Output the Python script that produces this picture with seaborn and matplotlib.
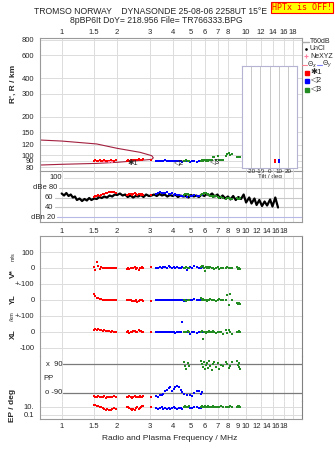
import matplotlib
matplotlib.use('Agg')
import matplotlib.pyplot as plt
import seaborn as sns
from matplotlib.lines import Line2D
from matplotlib.ticker import NullLocator

# ── Frekans ekseni ──
FREQ_LIM = (0.763, 20.1)
GRID_F = [1, 1.5, 2, 3, 4, 5, 6, 7, 8, 10, 12, 14, 16, 18]
TOP_TICKS = [1, 1.5, 2, 3, 4, 5, 6, 7, 8, 10, 12, 14, 16, 18]
TOP_LABELS = ['1', '1.5', '2', '3', '4', '5', '6', '7', '8', '10', '12', '14', '16', '18']
LOW_TICKS = [1, 1.5, 2, 3, 4, 5, 6, 7, 8, 9, 10, 11.4, 12.95, 14.4, 15.9]
LOW_LABELS = ['1', '1.5', '2', '3', '4', '5', '6', '7', '8', '9', '10', '12', '14', '16', '18']
R_TICKS = [80, 90, 100, 120, 150, 200, 300, 400, 600, 800]

# ── Yankı grupları (frekans, MHz) ──
red_f = [1.50, 1.52, 1.55, 1.58, 1.61, 1.64, 1.67, 1.70, 1.73, 1.76, 1.80, 1.84, 1.88, 1.93, 1.98,
         2.25, 2.29, 2.33, 2.37, 2.41, 2.45, 2.49, 2.53, 2.57, 2.61, 2.65, 2.69, 2.73, 2.77, 3.05]
blue_f = [3.25, 3.32, 3.40, 3.48, 3.56, 3.64, 3.72, 3.80, 3.88, 3.96, 4.05, 4.14, 4.23, 4.32, 4.42,
          4.52, 4.62, 4.80, 4.95, 5.10, 5.25, 5.40, 5.55, 5.70, 5.80]
green_f = [4.62, 4.68, 4.75, 4.82, 4.90, 5.72, 5.78, 5.85, 5.92, 6.00, 6.08, 6.15, 6.22, 6.30, 6.40,
           6.50, 6.60, 6.72, 6.85, 7.00, 7.15, 7.30, 7.45, 7.75, 7.90, 8.05, 8.20, 8.35, 8.90, 9.00,
           9.10, 9.20, 9.30]

# R' / km
red_r = [90, 91, 90, 89, 91, 90, 90, 91, 90, 89, 90, 91, 90, 90, 91,
         90, 91, 90, 91, 92, 91, 92, 91, 92, 93, 92, 91, 92, 93, 92]
blue_r = [90, 90, 89, 90, 90, 91, 90, 90, 89, 90, 90, 89, 90, 90, 89, 88, 89, 89, 88, 90, 89, 88, 89, 90, 89]
green_r = [90, 90, 91, 90, 90, 90, 91, 90, 92, 91, 90, 91, 90, 91, 92, 91, 97, 96, 92, 98,
           91, 92, 91, 99, 101, 103, 100, 102, 97, 97, 97, 96, 97]

# Genlik / dB
red_db = [62, 63, 64, 65, 64, 66, 67, 68, 69, 70, 71, 72, 71, 72, 70,
          66, 65, 67, 68, 66, 67, 69, 68, 66, 67, 68, 66, 67, 65, 66]
blue_db = [68, 70, 71, 70, 69, 70, 71, 68, 67, 69, 66, 67, 65, 66, 64, 63, 64, 62, 63, 64, 65, 63, 64, 66, 65]
green_db = [66, 67, 68, 67, 66, 66, 67, 68, 69, 70, 69, 68, 67, 66, 64, 63, 62, 63, 64, 62,
            60, 61, 59, 58, 60, 59, 57, 58, 59, 58, 57, 58, 59]

# V* / m/s
red_v = [5, -10, 35, 15, -8, 5, 3, 0, 2, 0, -2, 0, 2, -3, 0, -5, 3, -8, 0, -3, 2, 5, -5, 0, -10, 3, -3, 8, 0, 8]
blue_v = [0, 3, 5, 2, 8, 5, 0, 10, 5, 3, 8, 0, 5, -3, 0, 5, 3, -12, 5, 0, 10, 5, 0, 3, 5]
green_v = [3, 0, 5, 0, 3, 5, 10, 15, 3, -20, 5, 0, 8, -3, 5, 0, 3, -5, 0, 5, -8, 3, 0, 0, 5, -3, 0, 0, 5, -5, 3, 0, -8]

# YL / km
red_yl = [37, 25, 15, 10, 8, 5, 3, 2, 0, 0, 0, 2, 0, 0, -2, -3, 0, -3, 0, -5, -8, -5, -3, -10, -5, 0, 3, 0, -5, -8]
blue_yl = [0, 2, 0, -3, 0, 0, 2, 0, -3, 0, 0, 2, 0, -2, 0, 0, -5, 2, 0, -3, 5, 0, -2, 0, 2]
green_yl = [0, 3, -5, 0, 0, 15, 0, 5, -3, 0, 3, -5, 0, 0, 5, -3, 0, 0, -5, 0, 8, 3, -3, 0, 31, -34, 37, 0,
            -17, -22, -27, -20, -25]

# XL / km
red_xl = [15, 20, 10, 18, 12, 10, 8, 10, 5, 8, 5, 3, 5, 0, 3, 2, 5, -5, 3, 0, 5, 8, 3, -3, 10, 5, 8, 3, 0, -3]
blue_xl = [0, 2, 0, -3, 0, 0, 2, 0, -3, -2, 0, -5, 0, 2, 0, 62, -3, 0, -10, 0, 3, -8, 0, 2, 0]
green_xl = [3, 0, -3, 5, 0, 0, 5, -44, 3, 0, -5, 3, 0, 5, 0, -3, 5, 0, -5, 0, 3, 0, -15, 10, -8, 15, 0, -10,
            -3, 0, 5, 0, -3]

# PP / deg
red_pp = [-110, -115, -112, -108, -118, -112, -115, -110, -120, -115, -112, -118, -115, -110, -113,
          -112, -118, -110, -115, -120, -112, -108, -115, -118, -112, -110, -116, -113, -108, -115]
blue_pp = [-110, -112, -105, -100, -95, -80, -70, -60, -55, -75, -65, -50, -45, -55, -70, -85, -95,
           -100, -105, -110, -90, -80, -75, -95, -85]
green_pp = [105, 75, 60, 95, 80, 110, 90, 70, 100, 60, 85, 95, 65, 110, 80, 55, 90, 100, 70, 95,
            60, 85, 75, 105, 90, 65, 80, 100, 110, 85, 70, 95, 60]

# EP / deg
red_ep = [30, 25, 20, 18, 10, 8, 5, 3, 2, 3, 2, 2, 3, 5, 3, 10, 8, 5, 3, 2, 3, 2, 5, 8, 3, 5, 10, 15, 20, 10]
blue_ep = [5, 3, 5, 8, 4, 5, 3, 6, 4, 5, 8, 5, 3, 5, 6, 4, 8, 10, 5, 6, 12, 8, 6, 5, 10]
green_ep = [10, 15, 8, 12, 20, 10, 15, 12, 8, 15, 10, 12, 20, 10, 8, 12, 15, 10, 12, 8,
            10, 15, 12, 10, 8, 12, 15, 10, 12, 20, 10, 15, 12]

# Gürültü (T60dB) eğrisi
noise_f = [1.00, 1.03, 1.06, 1.09, 1.12, 1.15, 1.18, 1.21, 1.25, 1.29,
           1.33, 1.37, 1.41, 1.45, 1.50, 1.55, 1.60, 1.65, 1.70, 1.76,
           1.82, 1.88, 1.94, 2.00, 2.07, 2.14, 2.21, 2.28, 2.36, 2.44,
           2.52, 2.60, 2.69, 2.78, 2.87, 2.97, 3.07, 3.17, 3.28, 3.39,
           3.50, 3.62, 3.74, 3.87, 4.00, 4.13, 4.27, 4.41, 4.56, 4.71,
           4.87, 5.03, 5.20, 5.37, 5.55, 5.74, 5.93, 6.13, 6.33, 6.54,
           6.76, 6.99, 7.22, 7.46, 7.71, 7.97, 8.23, 8.51, 8.79, 9.08,
           9.39, 9.70, 10.0, 10.4, 10.7, 11.1, 11.4, 11.8, 12.2, 12.6,
           13.0, 13.5, 13.9, 14.4, 14.9]
noise_db = [68, 64, 69, 63, 66, 60, 62, 55, 58, 53,
            57, 54, 59, 55, 58, 57, 61, 59, 62, 60,
            64, 62, 66, 65, 68, 64, 66, 61, 64, 60,
            63, 62, 65, 61, 66, 63, 64, 66, 63, 67,
            64, 66, 62, 65, 63, 66, 61, 64, 62, 63,
            60, 65, 62, 64, 61, 66, 63, 67, 64, 68,
            62, 66, 59, 64, 58, 62, 56, 63, 55, 61,
            57, 66, 50, 60, 48, 58, 45, 55, 43, 52,
            44, 56, 42, 60, 40]

# Profil eğrisi
profile_f = [0.763, 1.0, 1.55, 2.0, 2.66, 3.08, 3.14, 3.08, 2.5, 2.0, 1.55, 1.0, 0.763]
profile_r = [131, 128.6, 122, 112.8, 105, 98.8, 95, 92.5, 90, 87.7, 86, 84.6, 83.5]

# NeXYZ noktaları
nexyz_f = [1.70, 1.80, 1.88]
nexyz_r = [88, 88, 88]

# Eğim (tilt)
tilt_deg = [6, 10]
tilt_r = [89, 89]

RED, BLUE, GREEN = '#ff0000', '#0000ff', '#228b22'
GRID_C = '#dcdcdc'
SPINE_C = '#9a9a9a'
W, H = 335, 451


def kutu(l, t, r, b):
    return [l / W, 1 - b / H, (r - l) / W, (b - t) / H]


def fx(x):
    return x / W


def fy(y):
    return 1 - y / H


def kenarlar(ax, sides, color=SPINE_C):
    for s in ['left', 'right', 'top', 'bottom']:
        ax.spines[s].set_visible(s in sides)
        ax.spines[s].set_color(color)
        ax.spines[s].set_linewidth(0.8)


def frekans_ekseni(ax):
    ax.set_xscale('log')
    ax.set_xlim(*FREQ_LIM)
    for f in GRID_F:
        ax.axvline(f, color=GRID_C, lw=0.7, zorder=0)
    ax.xaxis.set_minor_locator(NullLocator())
    ax.set_xticks([])
    ax.set_xlabel('')
    ax.set_ylabel('')
    ax.set_facecolor('none')


def nokta(ax, f, v, color, s=3):
    sns.scatterplot(x=f, y=v, ax=ax, color=color, marker='s', s=s, linewidth=0,
                    legend=False, zorder=3)


sns.set_style('white')
plt.rcParams['font.family'] = ['Liberation Sans', 'DejaVu Sans']
plt.rcParams['font.size'] = 5.5

fig = plt.figure(figsize=(3.35, 4.51), dpi=100)

# ── Başlık ──
fig.text(fx(150), fy(12), 'TROMSO NORWAY    DYNASONDE 25-08-06 2258UT 15°E', ha='center', va='center', fontsize=6.2)
fig.text(fx(156), fy(20.5), '8pBP6It DoY= 218.956 File= TR766333.BPG', ha='center', va='center', fontsize=6.2)
fig.text(fx(302), fy(7.5), 'HPTx is OFF!', ha='center', va='center', fontsize=6, color='red',
         family='DejaVu Sans Mono',
         bbox=dict(facecolor='#ffff00', edgecolor='red', boxstyle='square,pad=0.15', lw=0.8))

# ── R' paneli ──
ax_r = fig.add_axes(kutu(40, 38, 302, 171))
sns.lineplot(x=profile_f, y=profile_r, ax=ax_r, color='#a3203f', lw=0.8, sort=False, estimator=None)
nokta(ax_r, red_f, red_r, RED, 3.5)
nokta(ax_r, blue_f, blue_r, BLUE, 3.5)
nokta(ax_r, green_f, green_r, GREEN, 3.5)
sns.scatterplot(x=nexyz_f, y=nexyz_r, ax=ax_r, color='#ff80a0', marker='s', s=3, linewidth=0, legend=False, zorder=4)
frekans_ekseni(ax_r)
ax_r.set_yscale('log')
ax_r.set_ylim(75, 822)
ax_r.yaxis.set_minor_locator(NullLocator())
ax_r.set_yticks(R_TICKS, [str(v) for v in R_TICKS])
for v in R_TICKS:
    ax_r.axhline(v, color=GRID_C, lw=0.7, zorder=0)
ax_r.set_xticks(TOP_TICKS, TOP_LABELS)
ax_r.tick_params(axis='x', top=True, labeltop=True, bottom=False, labelbottom=False, length=0, pad=1.5)
ax_r.tick_params(axis='y', length=3, color=SPINE_C, pad=1)
kenarlar(ax_r, ['left', 'right', 'top', 'bottom'])
for txt, f, r in [('✱1', 2.42, 86.5), ('◁2', 4.34, 86.5), ('◁3', 6.8, 87.5)]:
    ax_r.text(f, r, txt, fontsize=5.5, ha='center', va='center', zorder=5)

# ── Eğim iç grafiği ──
ax_t = fig.add_axes(kutu(242, 66, 297, 168))
ax_t.set_facecolor('white')
ax_t.set_xlim(-30, 30)
ax_t.set_yscale('log')
ax_t.set_ylim(79, 497)
for d in [-20, -10, 0, 10, 20]:
    ax_t.axvline(d, color='#c8c8c8', lw=0.7, zorder=0)
for d, r, c in zip(tilt_deg, tilt_r, [RED, BLUE]):
    ax_t.plot([d], [r], marker='|', color=c, ms=3.5, mew=1.4)
ax_t.yaxis.set_minor_locator(NullLocator())
ax_t.set_yticks([])
ax_t.set_xticks([-20, -10, 0, 10, 20], ['-20', '-10', '0', '10', '20'])
ax_t.tick_params(axis='x', length=0, pad=1, labelsize=4.5)
ax_t.set_xlabel('Tilt / deg', fontsize=4.5, labelpad=0)
kenarlar(ax_t, ['left', 'right', 'top', 'bottom'], '#b4b4d2')

# ── Genlik paneli ──
ax_db = fig.add_axes(kutu(40, 171, 302, 222))
sns.lineplot(x=noise_f, y=noise_db, ax=ax_db, color='black', lw=1.6, sort=False, estimator=None)
nokta(ax_db, red_f, red_db, RED, 4)
nokta(ax_db, blue_f, blue_db, BLUE, 4)
nokta(ax_db, green_f, green_db, GREEN, 4)
frekans_ekseni(ax_db)
ax_db.set_ylim(11, 113)
ax_db.set_yticks([])
for v, lab, xr, c in [(100, '100', 0.084, GRID_C), (80, 'dBe 80', 0.065, '#c8c8c8'),
                      (60, '60', 0.05, '#c8c8c8'), (40, '40', 0.05, '#c8c8c8'),
                      (20, 'dBn 20', 0.058, '#b8b8e6')]:
    ax_db.axhline(v, xmin=xr + 0.006, color=c, lw=0.8, zorder=0)
    ax_db.text(xr, v, lab, transform=ax_db.get_yaxis_transform(), ha='right', va='center')
ax_db.set_xticks(LOW_TICKS, LOW_LABELS)
ax_db.tick_params(axis='x', length=0, pad=4)
kenarlar(ax_db, ['left', 'right', 'bottom'])

# ── Alt panel: V*, YL, XL, PP, EP ──
ax_v = fig.add_axes(kutu(40, 236, 302, 284))
ax_yl = fig.add_axes(kutu(40, 284, 302, 316))
ax_xl = fig.add_axes(kutu(40, 316, 302, 356))
ax_pp = fig.add_axes(kutu(40, 356, 302, 401))
ax_ep = fig.add_axes(kutu(40, 401, 302, 419))

seriler = [
    (ax_v, red_v, blue_v, green_v, (-100, 200), [100, 0], ['100', '0']),
    (ax_yl, red_yl, blue_yl, green_yl, (-100, 100), [100, 0], ['+-100', '0']),
    (ax_xl, red_xl, blue_xl, green_xl, (-150, 100), [100, 0, -100], ['+-100', '0', '-100']),
]
for ax, rv, bv, gv, lim, ticks, labs in seriler:
    nokta(ax, red_f, rv, RED)
    nokta(ax, blue_f, bv, BLUE)
    nokta(ax, green_f, gv, GREEN)
    frekans_ekseni(ax)
    ax.set_ylim(*lim)
    ax.set_yticks(ticks, labs)
    for t in ticks:
        ax.axhline(t, color=GRID_C, lw=0.7, zorder=0, clip_on=False)
    ax.tick_params(axis='y', length=3, color=SPINE_C, pad=1)
    kenarlar(ax, ['left', 'right'])
ax_v.spines['top'].set_visible(True)
ax_v.spines['top'].set_color(SPINE_C)

nokta(ax_pp, red_f, red_pp, RED)
nokta(ax_pp, blue_f, blue_pp, BLUE)
nokta(ax_pp, green_f, green_pp, GREEN)
frekans_ekseni(ax_pp)
ax_pp.set_ylim(-140, 140)
ax_pp.set_yticks([])
for v, lab in [(90, 'x  90'), (-90, 'o -90')]:
    ax_pp.axhline(v, xmin=0.088, color='#7a7a7a', lw=0.9, zorder=1)
    ax_pp.text(0.084, v, lab, transform=ax_pp.get_yaxis_transform(), ha='right', va='center')
ax_pp.text(0.011, -3, 'PP', transform=ax_pp.get_yaxis_transform(), ha='left', va='center')
kenarlar(ax_pp, ['left', 'right'])

nokta(ax_ep, red_f, red_ep, RED)
nokta(ax_ep, blue_f, blue_ep, BLUE)
nokta(ax_ep, green_f, green_ep, GREEN)
frekans_ekseni(ax_ep)
ax_ep.set_yscale('log')
ax_ep.set_ylim(0.01, 316)
ax_ep.yaxis.set_minor_locator(NullLocator())
ax_ep.set_yticks([10, 0.1], ['10.', '0.1'])
for v in [10, 0.1]:
    ax_ep.axhline(v, color=GRID_C, lw=0.7, zorder=0)
ax_ep.tick_params(axis='y', length=3, color=SPINE_C, pad=1)
ax_ep.set_xticks(LOW_TICKS, LOW_LABELS)
ax_ep.tick_params(axis='x', length=0, pad=3)
kenarlar(ax_ep, ['left', 'right', 'bottom'])
for ax in [ax_v, ax_yl, ax_xl, ax_pp, ax_ep]:
    ax.spines['right'].set_color('#808080')

# ── Eksen etiketleri ──
fig.text(fx(13), fy(84), "R', R / km", rotation=90, ha='center', va='center', fontsize=6, weight='bold')
fig.text(fx(13), fy(274), 'V*', rotation=90, ha='center', va='center', fontsize=6, weight='bold')
fig.text(fx(13), fy(257), 'm/s', rotation=90, ha='center', va='center', fontsize=4)
fig.text(fx(13), fy(299), 'YL', rotation=90, ha='center', va='center', fontsize=5.5, weight='bold')
fig.text(fx(13), fy(316.5), '/km', rotation=90, ha='center', va='center', fontsize=4)
fig.text(fx(13), fy(334), 'XL', rotation=90, ha='center', va='center', fontsize=5.5, weight='bold')
fig.text(fx(12), fy(405), 'EP / deg', rotation=90, ha='center', va='center', fontsize=6, weight='bold')
fig.text(fx(170), fy(438), 'Radio and Plasma Frequency / MHz', ha='center', va='center', fontsize=6)

# ── Açıklama (legend) ──
fig.add_artist(Line2D([fx(302), fx(309)], [fy(41.5)] * 2, color='#aaaaaa', lw=1))
fig.text(fx(310), fy(41.5), 'T60dB', va='center', fontsize=5)
fig.add_artist(Line2D([fx(306)], [fy(49)], marker='o', color='black', ms=0.9, lw=0))
fig.text(fx(310), fy(49), 'UnCl', va='center', fontsize=5)
fig.add_artist(Line2D([fx(306)], [fy(56)], marker='+', color='#ff80a0', ms=3.5, mew=0.8, lw=0))
fig.text(fx(310), fy(56), 'NeXYZ', va='center', fontsize=5)
fig.add_artist(Line2D([fx(302), fx(307)], [fy(64.5)] * 2, color='#ff8090', lw=0.8))
fig.text(fx(307), fy(64.5), 'Θ$_x$', va='center', fontsize=4.8)
fig.add_artist(Line2D([fx(317), fx(322)], [fy(64.5)] * 2, color='#8080ff', lw=0.8))
fig.text(fx(322.5), fy(64.5), 'Θ$_y$', va='center', fontsize=4.8)
for y, c, lab in [(72.5, RED, '✱1'), (81, BLUE, '◁2'), (89.5, GREEN, '◁3')]:
    fig.add_artist(Line2D([fx(306.5)], [fy(y)], marker='s', color=c, ms=2.2, lw=0))
    fig.text(fx(310), fy(y), lab, va='center', fontsize=6)

fig.savefig('out.png', dpi=100)
